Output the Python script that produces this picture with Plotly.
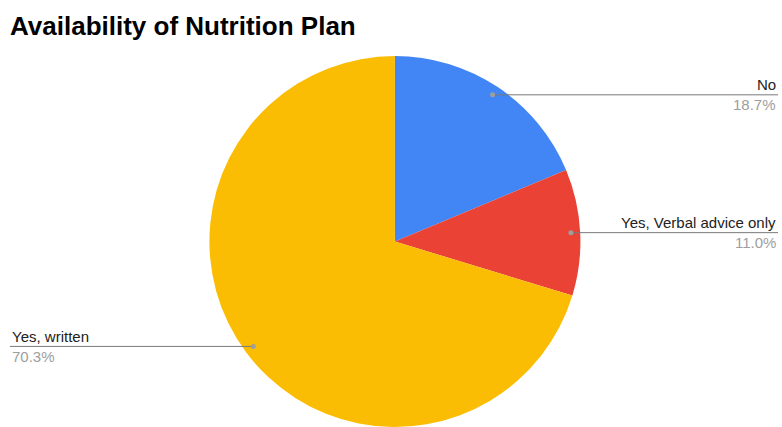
import math
import plotly.graph_objects as go

categories = ["No", "Yes, Verbal advice only", "Yes, written"]
values = [18.7, 11.0, 70.3]
colors = ["#4285F4", "#EA4335", "#FBBC04"]
label_side = ["right", "right", "left"]

W, H = 782, 427
MT, MB = 56, 0
plot_h = H - MT - MB
dom_x = [0.2, 0.81]
cx = (dom_x[0] + dom_x[1]) / 2 * W
cy = MT + plot_h / 2
R = plot_h / 2

fig = go.Figure(go.Pie(
    labels=categories, values=values, sort=False, direction="clockwise",
    rotation=0, marker=dict(colors=colors, line=dict(width=0)),
    textinfo="none", hoverinfo="label+percent", showlegend=False,
    domain=dict(x=dom_x, y=[0, 1]),
))

def px_to_paper(x, y):
    return x / W, (H - MB - y) / plot_h

total = sum(values)
shapes, annotations = [], []
cum = 0.0
for lab, v, side in zip(categories, values, label_side):
    mid = (cum + v / 2) / total * 2 * math.pi
    cum += v
    dx = cx + 0.95 * R * math.sin(mid)
    dy = cy - 0.95 * R * math.cos(mid)
    edge = 778 if side == "right" else 10
    px0, py0 = px_to_paper(dx, dy)
    pe, _ = px_to_paper(edge, dy)
    shapes.append(dict(type="line", xref="paper", yref="paper", x0=px0, x1=pe,
                       y0=py0, y1=py0, line=dict(color="#7a7a7a", width=1)))
    shapes.append(dict(type="circle", xref="paper", yref="paper",
                       xsizemode="pixel", ysizemode="pixel", xanchor=px0, yanchor=py0,
                       x0=-2.5, x1=2.5, y0=-2.5, y1=2.5,
                       fillcolor="#9e9e9e", line=dict(width=0)))
    _, ylab = px_to_paper(edge, dy - 10)
    _, ypct = px_to_paper(edge, dy + 10)
    anchor = "right" if side == "right" else "left"
    annotations.append(dict(text=lab, xref="paper", yref="paper", x=pe, y=ylab,
                            xanchor=anchor, yanchor="middle", showarrow=False,
                            font=dict(family="Liberation Sans, Arial", size=15, color="#222222")))
    annotations.append(dict(text=f"{v:.1f}%", xref="paper", yref="paper", x=pe, y=ypct,
                            xanchor=anchor, yanchor="middle", showarrow=False,
                            font=dict(family="Liberation Sans, Arial", size=15, color="#9e9e9e")))

fig.update_layout(
    width=W, height=H,
    margin=dict(l=0, r=0, t=MT, b=MB),
    paper_bgcolor="white", plot_bgcolor="white",
    title=dict(text="<b>Availability of Nutrition Plan</b>", x=10 / W, xanchor="left",
               xref="container", yref="container", y=1 - 26 / H, yanchor="middle",
               font=dict(family="Liberation Sans, Arial", size=26, color="#000000")),
    shapes=shapes, annotations=annotations,
)

fig.write_html("out.html")
